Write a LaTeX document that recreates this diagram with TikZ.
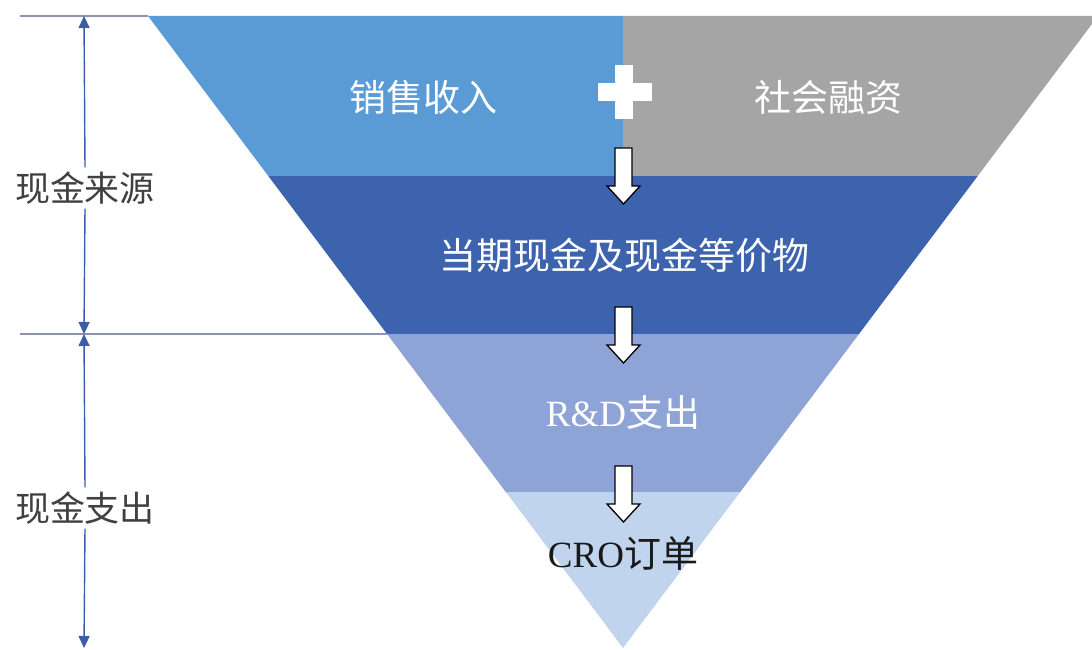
\documentclass[tikz,border=0pt]{standalone}
\usepackage{fontspec}
\setmainfont{Liberation Serif}
\newfontfamily\cjk{Noto Sans CJK SC}
\definecolor{bandA}{HTML}{5B9BD5}
\definecolor{bandB}{HTML}{A5A5A5}
\definecolor{bandC}{HTML}{3D62AE}
\definecolor{bandD}{HTML}{8EA3D6}
\definecolor{bandE}{HTML}{C1D4EE}
\definecolor{guide}{HTML}{8A94B0}
\definecolor{dimc}{HTML}{3E5BA6}
\definecolor{labc}{HTML}{404040}
\tikzset{
  bandtext/.style={text=white, font=\fontsize{37}{42}\selectfont},
  sidetext/.style={text=labc, font=\fontsize{35}{40}\selectfont\cjk, inner xsep=0pt, inner ysep=4pt},
  guideline/.style={draw=guide, line width=1.6pt},
  dimline/.style={draw=dimc, line width=1.4pt, -{Triangle[length=12pt,width=11pt]}},
  downarrow/.pic={\draw[fill=white, draw=black, line width=1.3pt, line join=miter]
     (-8.5,0) -- (8.5,0) -- (8.5,38) -- (16.5,38) -- (0,56) -- (-16.5,38) -- (-8.5,38) -- cycle;}
}
\usetikzlibrary{arrows.meta}
\begin{document}
\begin{tikzpicture}[x=1pt,y=-1pt]
\useasboundingbox (0,0) rectangle (1092,650);
\begin{scope}
\clip (0,0) rectangle (1092,650);
% bands
\fill[bandA] (148,16) -- (623,16) -- (623,176) -- (268.3,176) -- cycle;
\fill[bandB] (623,16) -- (1098,16) -- (977.7,176) -- (623,176) -- cycle;
\fill[bandC] (268.3,176) -- (977.7,176) -- (859,334) -- (387,334) -- cycle;
\fill[bandD] (387,334) -- (859,334) -- (740.2,492) -- (505.8,492) -- cycle;
\fill[bandE] (505.8,492) -- (740.2,492) -- (623,648) -- cycle;
\end{scope}
% plus sign
\fill[white] (598,83) rectangle (652,101);
\fill[white] (615,65) rectangle (633,119);
% block arrows
\pic at (623.5,148) {downarrow};
\pic at (623.5,307) {downarrow};
\pic at (623.5,466) {downarrow};
% band texts
\node[bandtext] (sales) at (423,97) {\cjk 销售收入};
\node[bandtext] (fin) at (828,97) {\cjk 社会融资};
\node[bandtext] (cash) at (624,255) {\cjk 当期现金及现金等价物};
\node[bandtext] (rd) at (623,412) {R\&D\cjk 支出};
\node[bandtext, text=black!90] (cro) at (623,553) {CRO\cjk 订单};
% guide lines
\coordinate (gtl) at (20,16);
\coordinate (gtr) at (148,16);
\coordinate (gml) at (20,334);
\coordinate (gmr) at (387,334);
\draw[guideline] (gtl) -- (gtr);
\draw[guideline] (gml) -- (gmr);
% dimension arrows
\coordinate (dtop) at (84,16);
\coordinate (dmid) at (84,334);
\coordinate (dbot) at (84,648);
\node[sidetext] (src) at (85,188) {现金来源};
\node[sidetext] (out) at (85,508) {现金支出};
\draw[dimline] (src.north) -- (dtop);
\draw[dimline] (src.south) -- (dmid);
\draw[dimline] (out.north) -- (dmid);
\draw[dimline] (out.south) -- (dbot);
\end{tikzpicture}
\end{document}
